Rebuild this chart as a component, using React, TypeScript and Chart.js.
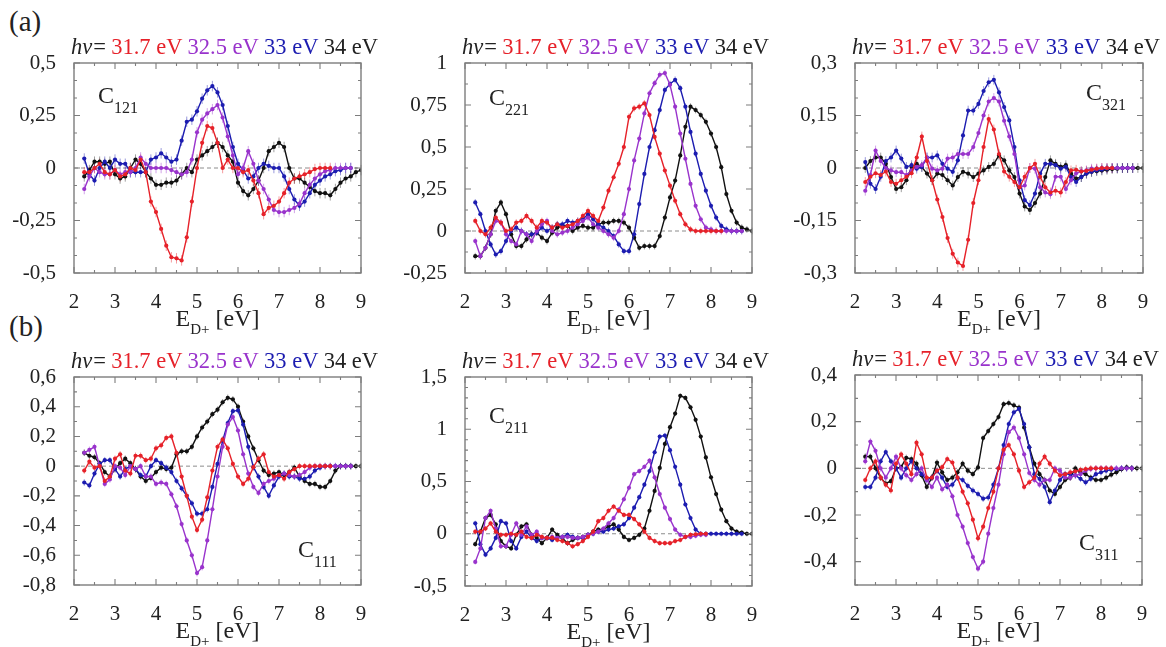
import React, { useEffect, useRef } from "react";
import { Chart, registerables } from "chart.js";

Chart.register(...registerables);

const FONT = "'Liberation Serif', 'DejaVu Serif', 'Noto Serif', Tinos, 'Times New Roman', serif";

// Photon energies of the four series
const HV_LABELS = ["31.7 eV", "32.5 eV", "33 eV", "34 eV"];
const COLORS = ["#e62129", "#9933cc", "#1c1cb0", "#111111"];
const ERR_COLORS = ["rgba(230,33,41,0.45)", "rgba(153,51,204,0.45)", "rgba(28,28,176,0.45)", "rgba(17,17,17,0.4)"];

// Deuteron kinetic energy E_D+ [eV]
const ENERGY = [
  2.25, 2.375, 2.5, 2.625, 2.75, 2.875, 3.0, 3.125, 3.25, 3.375,
  3.5, 3.625, 3.75, 3.875, 4.0, 4.125, 4.25, 4.375, 4.5, 4.625,
  4.75, 4.875, 5.0, 5.125, 5.25, 5.375, 5.5, 5.625, 5.75, 5.875,
  6.0, 6.125, 6.25, 6.375, 6.5, 6.625, 6.75, 6.875, 7.0, 7.125,
  7.25, 7.375, 7.5, 7.625, 7.75, 7.875, 8.0, 8.125, 8.25, 8.375,
  8.5, 8.625, 8.75, 8.875, 9.0,
];

const X_TICKS = [2, 3, 4, 5, 6, 7, 8, 9];

// ---------- (a) C121 ----------
const A1_TICKS = [-0.5, -0.25, 0, 0.25, 0.5];
const A1_RED = [
  -0.02, -0.02, 0, 0.02, -0.02, -0.03, -0.01, -0.04, -0.03, 0,
  -0.01, 0.04, -0.02, -0.16, -0.21, -0.29, -0.37, -0.425, -0.43, -0.44,
  -0.33, -0.16, 0, 0.12, 0.2, 0.19, 0.12, 0, 0.04, 0,
  0, -0.02, -0.01, -0.06, -0.12, -0.22, -0.19, -0.18, -0.16, -0.12,
  -0.07, -0.05, -0.04, -0.03, -0.02, -0.005, 0, 0, 0,
];
const A1_PURPLE = [
  -0.1, -0.04, 0, -0.02, -0.03, -0.03, -0.01, -0.03, -0.02, -0.02,
  0, 0.05, 0.02, 0, 0, 0, 0, -0.01, -0.02, -0.03,
  -0.02, 0.04, 0.17, 0.23, 0.26, 0.28, 0.3, 0.24, 0.15, 0.06,
  -0.03, 0, 0.08, 0.02, -0.06, -0.1, -0.15, -0.2, -0.21, -0.21,
  -0.2, -0.19, -0.17, -0.12, -0.08, -0.05, -0.03, -0.015, -0.01, 0,
  0, 0, 0,
];
const A1_BLUE = [
  0.045, -0.03, -0.06, 0, 0.03, 0, 0.04, 0.02, 0.02, -0.02,
  -0.02, -0.02, -0.02, 0.04, 0.05, 0.07, 0.05, 0.03, 0.04, 0.13,
  0.22, 0.23, 0.27, 0.33, 0.37, 0.39, 0.36, 0.3, 0.2, 0.1,
  0.02, -0.01, -0.05, -0.04, 0, 0.02, 0.01, 0, 0, -0.04,
  -0.1, -0.15, -0.18, -0.16, -0.12, -0.08, -0.06, -0.04, -0.03, -0.015,
  -0.01, 0, 0,
];
const A1_BLACK = [
  -0.04, -0.01, 0.03, 0.03, 0.02, 0.03, -0.03, -0.05, -0.04, 0,
  0.04, 0.02, -0.02, -0.05, -0.08, -0.08, -0.07, -0.07, -0.06, -0.03,
  0, -0.02, 0.04, 0.06, 0.08, 0.1, 0.12, 0.1, 0.06, 0.03,
  -0.07, -0.11, -0.13, -0.1, -0.06, 0, 0.08, 0.1, 0.12, 0.1,
  0, -0.05, -0.05, -0.07, -0.09, -0.11, -0.12, -0.12, -0.13, -0.1,
  -0.07, -0.05, -0.04, -0.02, -0.01,
];

// ---------- (a) C221 ----------
const A2_TICKS = [-0.25, 0, 0.25, 0.5, 0.75, 1];
const A2_RED = [
  0.06, 0, -0.02, 0.02, 0.08, 0.05, 0, 0.01, 0.05, 0.06,
  0.09, 0.06, 0.02, 0.06, 0.05, 0.02, 0.04, 0.02, 0.03, 0.04,
  0.06, 0.09, 0.12, 0.09, 0.06, 0.14, 0.24, 0.32, 0.4, 0.5,
  0.68, 0.73, 0.74, 0.76, 0.69, 0.56, 0.46, 0.36, 0.27, 0.18,
  0.1, 0.04, 0.01, 0, 0, 0, 0, 0, 0,
];
const A2_PURPLE = [
  -0.06, -0.15, -0.1, -0.02, 0.06, 0.05, -0.02, -0.06, -0.08, 0,
  -0.02, -0.06, 0, 0.04, 0.06, 0, -0.02, -0.01, 0, 0.02,
  0.04, 0.06, 0.08, 0.04, 0.02, 0, -0.02, -0.04, 0, 0.1,
  0.25, 0.42, 0.55, 0.7, 0.82, 0.88, 0.93, 0.94, 0.87, 0.74,
  0.58, 0.43, 0.28, 0.15, 0.07, 0.02, 0.01, 0, 0, 0,
  0, 0, 0,
];
const A2_BLUE = [
  0.17, 0.1, 0, -0.08, -0.14, -0.12, -0.06, 0, 0.02, 0,
  -0.02, -0.02, -0.01, 0.02, 0, 0.02, 0.04, 0.04, 0.06, 0.05,
  0.06, 0.07, 0.1, 0.07, 0.04, 0.02, 0, -0.03, -0.08, -0.12,
  -0.12, -0.02, 0.16, 0.34, 0.5, 0.6, 0.72, 0.84, 0.875, 0.9,
  0.85, 0.74, 0.59, 0.46, 0.34, 0.24, 0.15, 0.08, 0.03, 0.01,
  0, 0, 0,
];
const A2_BLACK = [
  -0.15, -0.15, -0.1, -0.02, 0.12, 0.17, 0.1, -0.02, -0.09, -0.09,
  -0.05, -0.02, -0.01, -0.04, -0.06, -0.01, 0.02, 0.03, 0.03, 0,
  0.02, 0.03, 0.02, 0.02, 0.04, 0.05, 0.05, 0.06, 0.06, 0.05,
  0.02, -0.04, -0.1, -0.09, -0.09, -0.09, -0.03, 0.08, 0.2, 0.3,
  0.45, 0.62, 0.74, 0.72, 0.69, 0.65, 0.58, 0.5, 0.38, 0.22,
  0.12, 0.05, 0.02, 0.01, 0,
];

// ---------- (a) C321 ----------
const A3_TICKS = [-0.3, -0.15, 0, 0.15, 0.3];
const A3_RED = [
  -0.04, -0.025, -0.015, -0.02, -0.01, -0.04, -0.045, -0.035, -0.025, -0.015,
  0.03, 0.09, 0.02, -0.035, -0.09, -0.14, -0.2, -0.245, -0.27, -0.28,
  -0.205, -0.1, -0.035, 0.06, 0.14, 0.11, 0.04, -0.01, -0.025, -0.04,
  -0.055, -0.025, 0, 0.012, -0.025, -0.055, -0.07, -0.065, -0.07, -0.04,
  -0.007, -0.005, -0.01, -0.008, -0.005, -0.002, 0, 0, 0,
];
const A3_PURPLE = [
  -0.065, -0.02, 0.05, 0.02, 0, -0.007, -0.012, -0.012, -0.02, -0.007,
  0.003, 0.008, 0.03, -0.002, -0.007, -0.002, 0.027, 0.03, 0.04, 0.04,
  0.04, 0.06, 0.1, 0.15, 0.19, 0.2, 0.19, 0.135, 0.09, 0.04,
  -0.055, -0.05, 0, -0.002, -0.055, -0.07, -0.075, -0.025, -0.025, -0.06,
  -0.035, -0.015, -0.009, -0.007, -0.002, -0.002, 0, 0, 0, 0,
  0, 0, 0,
];
const A3_BLUE = [
  0.017, -0.045, -0.06, -0.025, 0.02, 0.03, 0.05, 0.027, 0.003, 0.008,
  -0.002, 0.003, 0.03, 0.03, 0.036, 0.012, -0.002, -0.011, 0.022, 0.093,
  0.164, 0.164, 0.183, 0.22, 0.245, 0.252, 0.216, 0.174, 0.136, 0.06,
  -0.035, -0.092, -0.106, -0.073, -0.016, 0.012, 0.012, 0.008, -0.002, 0.003,
  -0.026, -0.04, -0.026, -0.016, -0.011, -0.007, -0.005, -0.002, 0, 0,
  0, 0, 0,
];
const A3_BLACK = [
  0, 0.02, 0.03, 0.03, 0.012, -0.026, -0.06, -0.055, -0.035, 0.003,
  0.012, 0.003, -0.016, -0.035, -0.016, -0.02, -0.035, -0.05, -0.026, -0.011,
  -0.016, -0.026, -0.016, -0.007, 0.003, 0.012, 0.036, 0.022, -0.007, -0.026,
  -0.073, -0.11, -0.12, -0.1, -0.073, -0.026, 0.022, 0.012, 0.003, 0.008,
  -0.016, -0.03, -0.026, -0.016, -0.011, -0.009, -0.007, -0.005, -0.003, -0.002,
  0, 0, 0, 0, 0,
];

// ---------- (b) C111 ----------
const B1_TICKS = [-0.8, -0.6, -0.4, -0.2, 0, 0.2, 0.4, 0.6];
const B1_RED = [
  -0.03, 0.03, -0.01, 0, -0.1, -0.07, 0.05, 0.08, -0.03, -0.05,
  0.07, 0.07, 0.04, 0.05, 0.12, 0.14, 0.19, 0.2, 0.09, -0.07,
  -0.2, -0.34, -0.43, -0.36, -0.21, -0.03, 0.13, 0.18, 0.12, 0.015,
  -0.07, -0.12, -0.085, -0.007, 0.05, 0.08, -0.04, -0.07, -0.06, -0.085,
  -0.04, -0.02, 0, 0, 0, 0, 0, 0, 0,
];
const B1_PURPLE = [
  0.09, 0.11, 0.13, 0, -0.12, -0.09, 0, -0.01, -0.06, 0,
  -0.02, 0, -0.07, -0.07, -0.12, -0.11, -0.12, -0.19, -0.27, -0.39,
  -0.5, -0.6, -0.72, -0.68, -0.5, -0.29, -0.07, 0.13, 0.28, 0.33,
  0.24, 0.08, -0.05, -0.14, -0.18, -0.12, -0.1, -0.085, -0.06, -0.05,
  -0.06, -0.07, -0.06, -0.04, -0.01, 0, 0, 0, 0, 0,
  0, 0, 0,
];
const B1_BLUE = [
  -0.11, -0.13, -0.05, 0.015, 0.04, 0.04, -0.02, -0.07, -0.02, 0,
  -0.02, -0.06, -0.07, 0, 0.04, 0.02, -0.01, -0.04, -0.1, -0.15,
  -0.2, -0.25, -0.32, -0.32, -0.29, -0.14, 0.015, 0.17, 0.29, 0.37,
  0.375, 0.28, 0.13, -0.007, -0.07, -0.14, -0.2, -0.13, -0.07, -0.05,
  -0.07, -0.07, -0.085, -0.085, -0.07, -0.03, -0.01, 0, 0, 0,
  0, 0, 0,
];
const B1_BLACK = [
  0.09, 0.07, 0.06, 0.02, -0.04, -0.07, -0.02, 0.02, 0.05, 0.02,
  -0.02, -0.07, -0.1, -0.08, -0.04, -0.01, -0.02, -0.01, 0.08, 0.1,
  0.1, 0.13, 0.2, 0.26, 0.3, 0.35, 0.38, 0.43, 0.46, 0.45,
  0.4, 0.3, 0.2, 0.12, 0.04, -0.03, -0.06, -0.05, -0.04, -0.06,
  -0.04, -0.01, -0.07, -0.1, -0.12, -0.12, -0.14, -0.14, -0.1, -0.03,
  0, 0, 0, 0, 0,
];

// ---------- (b) C211 ----------
const B2_TICKS = [-0.5, 0, 0.5, 1, 1.5];
const B2_RED = [
  0.02, 0.02, 0.05, 0.1, 0.02, -0.01, -0.01, 0, -0.01, 0.02,
  -0.03, -0.04, -0.01, -0.03, -0.04, -0.04, -0.06, -0.07, -0.09, -0.12,
  -0.1, -0.07, -0.03, 0.02, 0.12, 0.15, 0.22, 0.26, 0.22, 0.18,
  0.18, 0.14, 0.09, 0.02, -0.04, -0.07, -0.09, -0.09, -0.09, -0.07,
  -0.06, -0.03, -0.01, -0.005, 0, 0,
];
const B2_PURPLE = [
  -0.27, -0.14, 0.15, 0.22, 0.05, -0.12, -0.12, -0.01, 0.1, -0.01,
  0.07, -0.01, 0.02, -0.04, -0.04, -0.03, -0.04, -0.03, -0.03, -0.04,
  -0.04, -0.03, -0.01, 0, 0.02, 0.05, 0.1, 0.15, 0.23, 0.33,
  0.44, 0.57, 0.6, 0.64, 0.7, 0.54, 0.38, 0.25, 0.14, 0.04,
  -0.01, -0.03, -0.03, -0.02, -0.01, -0.01,
];
const B2_BLUE = [
  0.1, -0.1, -0.2, -0.14, -0.04, 0.12, 0.1, -0.07, -0.14, -0.03,
  0.02, -0.04, -0.07, -0.04, -0.04, -0.06, -0.04, -0.03, -0.01, -0.03,
  -0.04, -0.04, -0.01, 0, 0.02, 0.02, 0.04, 0.05, 0.07, 0.09,
  0.15, 0.25, 0.35, 0.47, 0.6, 0.78, 0.93, 0.94, 0.8, 0.64,
  0.47, 0.28, 0.15, 0.04, 0, 0, 0, 0, 0, 0,
  0, 0, 0,
];
const B2_BLACK = [
  -0.1, 0.02, 0.15, 0.18, 0.09, -0.07, -0.12, -0.14, -0.01, 0.07,
  0.09, -0.01, -0.04, -0.09, -0.04, 0.04, -0.01, -0.04, -0.09, -0.06,
  -0.04, -0.03, -0.01, 0.02, 0.04, 0.04, 0.07, 0.09, 0.04, -0.03,
  -0.06, -0.04, -0.01, 0.05, 0.22, 0.41, 0.63, 0.86, 1.02, 1.15,
  1.32, 1.3, 1.21, 1.09, 0.93, 0.73, 0.54, 0.38, 0.23, 0.12,
  0.05, 0.02, 0.01, 0, 0,
];

// ---------- (b) C311 ----------
const B3_TICKS = [-0.4, -0.2, 0, 0.2, 0.4];
const B3_RED = [
  -0.05, 0, 0.03, -0.04, -0.07, -0.095, 0.02, 0.06, 0.02, -0.025,
  0.11, 0.06, -0.04, -0.04, -0.01, 0.005, 0.04, 0.025, -0.04, -0.1,
  -0.15, -0.22, -0.3, -0.25, -0.17, -0.1, 0, 0.08, 0.1, 0.06,
  -0.01, -0.08, -0.06, -0.04, 0.02, 0.05, 0.02, -0.01, -0.03, -0.025,
  -0.017, -0.013, -0.007, -0.003, 0, 0, 0, 0, 0,
];
const B3_PURPLE = [
  0.03, 0.115, 0.075, 0, -0.04, 0, 0.05, 0, -0.03, -0.05,
  -0.025, 0, -0.05, -0.08, -0.04, -0.09, -0.07, -0.12, -0.2, -0.25,
  -0.32, -0.38, -0.43, -0.4, -0.28, -0.17, -0.07, 0.06, 0.155, 0.175,
  0.13, 0.06, -0.02, -0.05, -0.07, -0.05, -0.05, 0, -0.01, -0.04,
  -0.04, -0.03, -0.025, -0.01, -0.003, 0, 0, 0, 0, 0,
  0, 0, 0,
];
const B3_BLUE = [
  -0.08, -0.08, -0.04, 0.03, 0.07, 0.03, 0, -0.04, 0, 0.03,
  0, -0.025, -0.05, -0.04, -0.01, -0.04, -0.08, -0.07, -0.04, -0.05,
  -0.075, -0.095, -0.11, -0.13, -0.125, -0.07, 0, 0.1, 0.19, 0.24,
  0.255, 0.19, 0.09, -0.025, -0.045, -0.08, -0.145, -0.095, -0.05, -0.025,
  -0.025, -0.03, -0.045, -0.06, -0.045, -0.025, -0.017, -0.01, -0.006, -0.003,
  0, 0, 0,
];
const B3_BLACK = [
  0.05, 0.05, 0, -0.04, -0.065, -0.055, 0, 0.005, 0.045, 0.04,
  0.02, -0.03, -0.08, -0.04, 0.025, -0.017, -0.05, -0.04, -0.017, 0.02,
  -0.01, -0.025, 0.004, 0.13, 0.16, 0.19, 0.22, 0.275, 0.28, 0.27,
  0.26, 0.175, 0.09, 0.02, -0.025, -0.05, -0.095, -0.11, -0.08, -0.05,
  -0.04, 0, -0.017, -0.025, -0.04, -0.05, -0.05, -0.04, -0.027, -0.017,
  -0.004, 0.004, 0, 0, 0,
];

// Error-bar half-widths (per panel)
const ERRORS = { a1: 0.025, a2: 0.02, a3: 0.014, b1: 0.022, b2: 0.025, b3: 0.014 };

type Panel = {
  id: string;
  sub: string;
  box: [number, number, number, number];
  yMin: number;
  yMax: number;
  yTicks: number[];
  yMinorDiv: number;
  series: number[][];
  err: number;
  label: [number, number];
};

const PANELS: Panel[] = [
  { id: "a1", sub: "121", box: [74, 63, 361, 273], yMin: -0.5, yMax: 0.5, yTicks: A1_TICKS, yMinorDiv: 3, series: [A1_RED, A1_PURPLE, A1_BLUE, A1_BLACK], err: ERRORS.a1, label: [24, 40] },
  { id: "a2", sub: "221", box: [465, 63, 752, 273], yMin: -0.25, yMax: 1, yTicks: A2_TICKS, yMinorDiv: 2, series: [A2_RED, A2_PURPLE, A2_BLUE, A2_BLACK], err: ERRORS.a2, label: [24, 42] },
  { id: "a3", sub: "321", box: [855, 63, 1143, 273], yMin: -0.3, yMax: 0.3, yTicks: A3_TICKS, yMinorDiv: 3, series: [A3_RED, A3_PURPLE, A3_BLUE, A3_BLACK], err: ERRORS.a3, label: [231, 37] },
  { id: "b1", sub: "111", box: [74, 377, 361, 585], yMin: -0.8, yMax: 0.6, yTicks: B1_TICKS, yMinorDiv: 2, series: [B1_RED, B1_PURPLE, B1_BLUE, B1_BLACK], err: ERRORS.b1, label: [224, 180] },
  { id: "b2", sub: "211", box: [465, 377, 752, 586], yMin: -0.5, yMax: 1.5, yTicks: B2_TICKS, yMinorDiv: 5, series: [B2_RED, B2_PURPLE, B2_BLUE, B2_BLACK], err: ERRORS.b2, label: [24, 46] },
  { id: "b3", sub: "311", box: [855, 375, 1142, 585], yMin: -0.5, yMax: 0.4, yTicks: B3_TICKS, yMinorDiv: 2, series: [B3_RED, B3_PURPLE, B3_BLUE, B3_BLACK], err: ERRORS.b3, label: [224, 175] },
];

const PAD_L = 80;
const PAD_T = 48;
const PAD_R = 40;
const PAD_B = 72;

const fmt = (v: number) => String(Math.round(v * 1000) / 1000).replace(".", ",");

function PanelChart({ p }: { p: Panel }) {
  const ref = useRef<HTMLCanvasElement | null>(null);
  const [L, T, R, B] = p.box;

  useEffect(() => {
    const canvas = ref.current;
    if (!canvas) return;

    const decor = {
      id: "decor_" + p.id,
      beforeDatasetsDraw(chart: any) {
        const { ctx, chartArea: a } = chart;
        const xs = chart.scales.x;
        const ys = chart.scales.y;
        ctx.save();
        ctx.strokeStyle = "#8c8c8c";
        ctx.lineWidth = 1;
        ctx.setLineDash([4, 3]);
        const y0 = ys.getPixelForValue(0);
        ctx.beginPath();
        ctx.moveTo(a.left, y0);
        ctx.lineTo(a.right, y0);
        ctx.stroke();
        ctx.setLineDash([]);
        chart.data.datasets.forEach((ds: any, i: number) => {
          ctx.strokeStyle = ERR_COLORS[i];
          ctx.lineWidth = 1;
          ctx.beginPath();
          ds.data.forEach((pt: any) => {
            const px = xs.getPixelForValue(pt.x);
            ctx.moveTo(px, ys.getPixelForValue(pt.y + p.err));
            ctx.lineTo(px, ys.getPixelForValue(pt.y - p.err));
          });
          ctx.stroke();
        });
        ctx.restore();
      },
      afterDraw(chart: any) {
        const { ctx, chartArea: a } = chart;
        const xs = chart.scales.x;
        const ys = chart.scales.y;
        ctx.save();
        ctx.strokeStyle = "#7d7d7d";
        ctx.lineWidth = 1.4;
        ctx.strokeRect(a.left, a.top, a.right - a.left, a.bottom - a.top);
        ctx.lineWidth = 1.1;
        ctx.beginPath();
        const major = 6;
        const minor = 3;
        for (let k = 0; k < X_TICKS.length; k++) {
          const v = X_TICKS[k];
          const px = xs.getPixelForValue(v);
          ctx.moveTo(px, a.bottom); ctx.lineTo(px, a.bottom - major);
          ctx.moveTo(px, a.top); ctx.lineTo(px, a.top + major);
          if (k < X_TICKS.length - 1) {
            const m = xs.getPixelForValue((v + X_TICKS[k + 1]) / 2);
            ctx.moveTo(m, a.bottom); ctx.lineTo(m, a.bottom - minor);
            ctx.moveTo(m, a.top); ctx.lineTo(m, a.top + minor);
          }
        }
        const yt = p.yTicks;
        const step = yt[1] - yt[0];
        const lo = yt[0] - step;
        for (let v = lo; v <= yt[yt.length - 1] + 1e-9; v += step) {
          const isMajor = v >= yt[0] - 1e-9;
          if (isMajor) {
            const py = ys.getPixelForValue(v);
            ctx.moveTo(a.left, py); ctx.lineTo(a.left + major, py);
            ctx.moveTo(a.right, py); ctx.lineTo(a.right - major, py);
          }
          for (let s = 1; s < p.yMinorDiv; s++) {
            const mv = v + (step * s) / p.yMinorDiv;
            if (mv < p.yMin - 1e-9 || mv > p.yMax + 1e-9) continue;
            const py = ys.getPixelForValue(mv);
            ctx.moveTo(a.left, py); ctx.lineTo(a.left + minor, py);
            ctx.moveTo(a.right, py); ctx.lineTo(a.right - minor, py);
          }
        }
        ctx.stroke();

        // header
        ctx.textBaseline = "alphabetic";
        ctx.textAlign = "left";
        const hs = 22.5;
        const base = a.top - 9;
        const startX = a.left - 3;
        const targetW = a.right - a.left + 20;
        ctx.font = `italic ${hs}px ${FONT}`;
        const wHv = ctx.measureText("hν").width;
        ctx.font = `${hs}px ${FONT}`;
        const wEq = ctx.measureText("=").width;
        const ws = HV_LABELS.map((t) => ctx.measureText(t).width);
        const sum = wHv + 1 + wEq + ws.reduce((s, w) => s + w, 0);
        const gap = (targetW - sum) / 4;
        let cx = startX;
        ctx.fillStyle = "#222";
        ctx.font = `italic ${hs}px ${FONT}`;
        ctx.fillText("hν", cx, base);
        cx += wHv + 1;
        ctx.font = `${hs}px ${FONT}`;
        ctx.fillText("=", cx, base);
        cx += wEq + gap;
        HV_LABELS.forEach((t, i) => {
          ctx.fillStyle = i === 3 ? "#222" : COLORS[i];
          ctx.fillText(t, cx, base);
          cx += ws[i] + gap;
        });

        // x-axis title
        ctx.fillStyle = "#222";
        ctx.font = `24px ${FONT}`;
        const wE = ctx.measureText("E").width;
        const wRest = ctx.measureText(" [eV]").width;
        ctx.font = `15px ${FONT}`;
        const wSub = ctx.measureText("D+").width;
        const total = wE + wSub + wRest;
        let tx = (a.left + a.right) / 2 - total / 2;
        const tb = a.bottom + 53;
        ctx.font = `24px ${FONT}`;
        ctx.fillText("E", tx, tb);
        tx += wE;
        ctx.font = `15px ${FONT}`;
        ctx.fillText("D+", tx, tb + 8);
        tx += wSub;
        ctx.font = `24px ${FONT}`;
        ctx.fillText(" [eV]", tx, tb);

        // panel label
        const lx = a.left + p.label[0];
        const ly = a.top + p.label[1];
        ctx.font = `24px ${FONT}`;
        ctx.fillText("C", lx, ly);
        const wC = ctx.measureText("C").width;
        ctx.font = `16px ${FONT}`;
        ctx.fillText(p.sub, lx + wC, ly + 10);

        ctx.restore();
      },
    };

    const chart = new Chart(canvas, {
      type: "line",
      data: {
        datasets: p.series.map((s, i) => ({
          label: HV_LABELS[i],
          data: s.map((v, j) => ({ x: ENERGY[j], y: v })),
          borderColor: COLORS[i],
          backgroundColor: COLORS[i],
          borderWidth: 1.4,
          pointRadius: 2.1,
          pointHoverRadius: 2.1,
          pointBorderWidth: 0,
          tension: 0,
          fill: false,
        })),
      },
      options: {
        responsive: false,
        animation: false,
        events: [],
        layout: { padding: { left: 0, top: PAD_T, right: PAD_R, bottom: 0 } },
        plugins: { legend: { display: false }, tooltip: { enabled: false } },
        scales: {
          x: {
            type: "linear",
            min: 2,
            max: 9,
            grid: { display: false },
            border: { display: false },
            ticks: {
              autoSkip: false,
              maxRotation: 0,
              padding: 9,
              color: "#222",
              font: { family: FONT, size: 21 },
              callback: (v: any) => String(v),
            },
            afterBuildTicks: (s: any) => {
              s.ticks = X_TICKS.map((v) => ({ value: v }));
            },
            afterFit: (s: any) => {
              s.height = PAD_B;
            },
          },
          y: {
            type: "linear",
            min: p.yMin,
            max: p.yMax,
            grid: { display: false },
            border: { display: false },
            ticks: {
              autoSkip: false,
              padding: 10,
              color: "#222",
              font: { family: FONT, size: 21 },
              callback: (v: any) => fmt(Number(v)),
            },
            afterBuildTicks: (s: any) => {
              s.ticks = p.yTicks.map((v) => ({ value: v }));
            },
            afterFit: (s: any) => {
              s.width = PAD_L;
            },
          },
        },
      } as any,
      plugins: [decor],
    });
    return () => chart.destroy();
  }, [p]);

  return (
    <canvas
      ref={ref}
      width={R - L + PAD_L + PAD_R}
      height={B - T + PAD_T + PAD_B}
      style={{ position: "absolute", left: L - PAD_L, top: T - PAD_T }}
    />
  );
}

export default function App() {
  return (
    <div
      style={{
        position: "absolute",
        left: 0,
        top: 0,
        width: 1166,
        height: 647,
        overflow: "hidden",
        background: "#fff",
      }}
    >
      <div style={{ position: "absolute", left: 9, top: 7, fontFamily: FONT, fontSize: 29, lineHeight: "29px", color: "#222" }}>(a)</div>
      <div style={{ position: "absolute", left: 9, top: 312, fontFamily: FONT, fontSize: 29, lineHeight: "29px", color: "#222" }}>(b)</div>
      {PANELS.map((p) => (
        <PanelChart key={p.id} p={p} />
      ))}
    </div>
  );
}
